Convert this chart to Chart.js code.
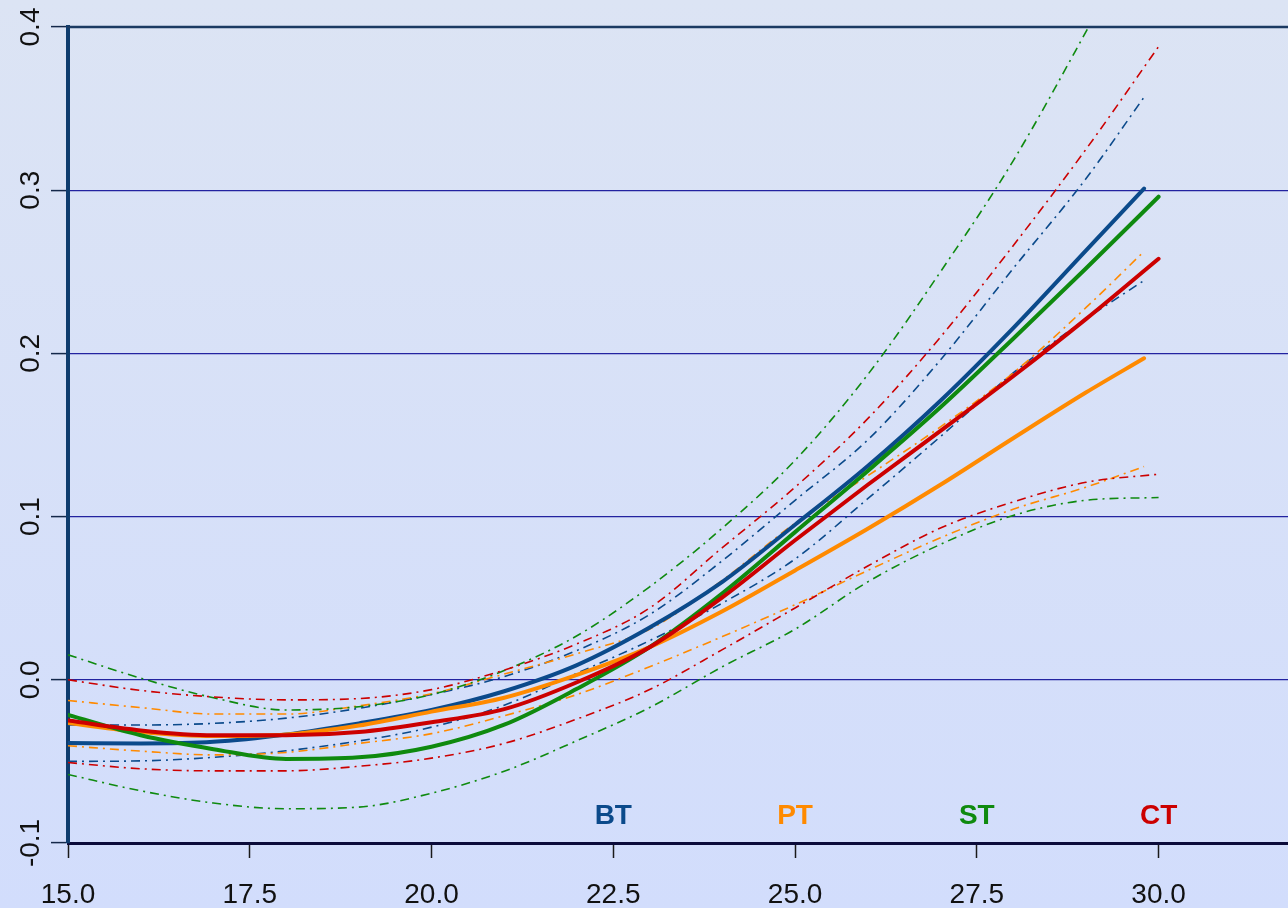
<!DOCTYPE html>
<html>
<head>
<meta charset="utf-8">
<script src="https://cdn.jsdelivr.net/npm/chart.js@4.4.1/dist/chart.umd.min.js"></script>
<style>
  html, body { margin: 0; padding: 0; overflow: hidden; background: #d8e1f8; }
  #wrap { width: 1288px; height: 908px; }
</style>
</head>
<body>
<div id="wrap"><canvas id="c" width="1288" height="908"></canvas></div>
<script>
// Shared x positions of the curve samples; the last sample of each series sits at its own end point.
const xGrid = [15, 16, 17, 18, 19, 20, 21, 22, 23, 24, 25, 26, 27, 28, 29];
const endX = { BT: 29.8, PT: 29.8, ST: 30, CT: 30 };

// Fitted curves
const btFit = [-0.0388, -0.039, -0.038, -0.0335, -0.0267, -0.0185, -0.007, 0.009, 0.032, 0.060, 0.095, 0.131, 0.171, 0.2155, 0.263, 0.301];
const ptFit = [-0.0265, -0.032, -0.0345, -0.0335, -0.028, -0.0195, -0.011, 0.003, 0.020, 0.042, 0.067, 0.0925, 0.1195, 0.148, 0.176, 0.197];
const stFit = [-0.0215, -0.034, -0.0425, -0.0485, -0.0475, -0.041, -0.0275, -0.0055, 0.020, 0.053, 0.0905, 0.128, 0.167, 0.209, 0.252, 0.296];
const ctFit = [-0.025, -0.031, -0.034, -0.034, -0.032, -0.026, -0.018, -0.0015, 0.020, 0.0505, 0.0855, 0.1195, 0.1525, 0.186, 0.221, 0.258];

// Upper confidence limits
const btHi = [-0.0276, -0.0277, -0.0267, -0.0235, -0.0175, -0.009, 0.002, 0.018, 0.040, 0.073, 0.110, 0.147, 0.196, 0.252, 0.307, 0.357];
const ptHi = [-0.0127, -0.017, -0.021, -0.021, -0.016, -0.0085, 0.0035, 0.016, 0.031, 0.061, 0.096, 0.125, 0.155, 0.188, 0.228, 0.2625];
const stHi = [0.0153, 0.001, -0.011, -0.0185, -0.0165, -0.009, 0.0057, 0.027, 0.057, 0.093, 0.1345, 0.187, 0.25, 0.318, 0.397, 0.48];
const ctHi = [0.0, -0.0065, -0.0105, -0.0123, -0.0115, -0.006, 0.006, 0.022, 0.044, 0.081, 0.118, 0.160, 0.210, 0.266, 0.325, 0.388];

// Lower confidence limits
const btLo = [-0.050, -0.0497, -0.0475, -0.0435, -0.0375, -0.029, -0.0156, 0.004, 0.024, 0.047, 0.074, 0.111, 0.149, 0.188, 0.221, 0.2447];
const ptLo = [-0.0404, -0.0437, -0.046, -0.0445, -0.039, -0.033, -0.022, -0.009, 0.008, 0.0265, 0.046, 0.067, 0.087, 0.1045, 0.118, 0.1307];
const stLo = [-0.058, -0.068, -0.0755, -0.079, -0.078, -0.0695, -0.056, -0.0373, -0.017, 0.008, 0.031, 0.060, 0.083, 0.1007, 0.110, 0.1117];
const ctLo = [-0.0507, -0.0545, -0.0558, -0.0558, -0.053, -0.048, -0.039, -0.024, -0.006, 0.0185, 0.044, 0.0697, 0.093, 0.109, 0.121, 0.126];

// Axis ticks and group names
const xTicks = [15, 17.5, 20, 22.5, 25, 27.5, 30];
const yTicks = [-0.1, 0.0, 0.1, 0.2, 0.3, 0.4];
const groups = ['BT', 'PT', 'ST', 'CT'];
const groupX = [22.5, 25, 27.5, 30];

const colors = { BT: '#0b4a8b', PT: '#ff8a00', ST: '#0f8a0f', CT: '#cc0000' };

function pts(values, key) {
  return values.map((v, i) => ({ x: i < xGrid.length ? xGrid[i] : endX[key], y: v }));
}

function fitSet(key, values, order) {
  return {
    label: key, data: pts(values, key), borderColor: colors[key], borderWidth: 4,
    borderCapStyle: 'round', pointRadius: 0, fill: false, cubicInterpolationMode: 'monotone', order
  };
}
function bandSet(key, values, tag) {
  return {
    label: key + ' ' + tag, data: pts(values, key), borderColor: colors[key], borderWidth: 1.6,
    borderDash: [9, 5, 2, 5], pointRadius: 0, fill: false, cubicInterpolationMode: 'monotone', order: 20
  };
}

const datasets = [
  fitSet('CT', ctFit, 0), fitSet('ST', stFit, 1), fitSet('PT', ptFit, 2), fitSet('BT', btFit, 3),
  bandSet('CT', ctHi, 'upper'), bandSet('CT', ctLo, 'lower'),
  bandSet('ST', stHi, 'upper'), bandSet('ST', stLo, 'lower'),
  bandSet('PT', ptHi, 'upper'), bandSet('PT', ptLo, 'lower'),
  bandSet('BT', btHi, 'upper'), bandSet('BT', btLo, 'lower')
];

const background = {
  id: 'background',
  beforeDraw(chart) {
    const { ctx, width, height } = chart;
    const g = ctx.createLinearGradient(0, 0, 0, height);
    g.addColorStop(0, '#dce4f4');
    g.addColorStop(1, '#d2ddfc');
    ctx.save();
    ctx.fillStyle = g;
    ctx.fillRect(0, 0, width, height);
    ctx.restore();
  }
};

const decorations = {
  id: 'decorations',
  afterDraw(chart) {
    const { ctx, chartArea } = chart;
    const xs = chart.scales.x, ys = chart.scales.y;
    ctx.save();
    // top frame line
    ctx.strokeStyle = '#1b3a62';
    ctx.lineWidth = 2.5;
    ctx.beginPath();
    ctx.moveTo(chartArea.left - 1, chartArea.top);
    ctx.lineTo(chartArea.right, chartArea.top);
    ctx.stroke();

    // x tick labels
    ctx.fillStyle = '#111111';
    ctx.font = '28px "Liberation Sans", Arial, sans-serif';
    ctx.textAlign = 'center';
    ctx.textBaseline = 'alphabetic';
    xTicks.forEach(v => ctx.fillText(v.toFixed(1), xs.getPixelForValue(v), 903));

    // y tick labels, rotated
    yTicks.forEach(v => {
      ctx.save();
      ctx.translate(39, ys.getPixelForValue(v));
      ctx.rotate(-Math.PI / 2);
      ctx.fillText(v.toFixed(1), 0, 0);
      ctx.restore();
    });

    // group names along the bottom
    ctx.font = 'bold 28px "Liberation Sans", Arial, sans-serif';
    groups.forEach((g, i) => {
      ctx.fillStyle = colors[g];
      ctx.fillText(g, xs.getPixelForValue(groupX[i]), ys.getPixelForValue(-0.0885));
    });
    ctx.restore();
  }
};

new Chart(document.getElementById('c'), {
  type: 'line',
  data: { datasets },
  plugins: [background, decorations],
  options: {
    responsive: false,
    animation: false,
    devicePixelRatio: 1,
    layout: { padding: { left: 0, right: 0, top: 27, bottom: 0 } },
    plugins: { legend: { display: false }, tooltip: { enabled: false } },
    scales: {
      x: {
        type: 'linear', min: 15, max: 31.78,
        afterBuildTicks: s => { s.ticks = xTicks.map(v => ({ value: v })); },
        afterFit: s => { s.height = 65; },
        ticks: { display: false },
        grid: { drawOnChartArea: false, drawTicks: true, tickLength: 15, tickColor: '#1a1a1a', tickWidth: 1.5 },
        border: { color: '#0b0b3a', width: 3 }
      },
      y: {
        type: 'linear', min: -0.1, max: 0.4,
        afterBuildTicks: s => { s.ticks = yTicks.map(v => ({ value: v })); },
        afterFit: s => { s.width = 68; },
        ticks: { display: false },
        grid: {
          color: c => (c.tick && (Math.abs(c.tick.value + 0.1) < 1e-9 || Math.abs(c.tick.value - 0.4) < 1e-9)) ? 'rgba(0,0,0,0)' : '#2323a0',
          lineWidth: 1.2, drawTicks: true, tickLength: 17, tickColor: '#14284a', tickWidth: 1.5
        },
        border: { color: '#0e3c6e', width: 4 }
      }
    }
  }
});
</script>
</body>
</html>
